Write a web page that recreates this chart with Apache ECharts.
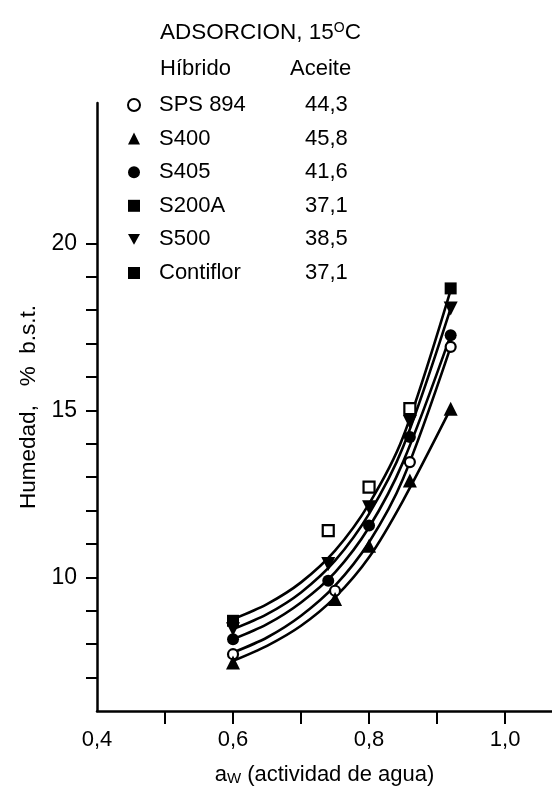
<!DOCTYPE html>
<html>
<head>
<meta charset="utf-8">
<script src="https://cdn.jsdelivr.net/npm/echarts@6/dist/echarts.min.js"></script>
<style>
html,body{margin:0;padding:0;background:#fff;}
#chart{width:552px;height:786px;}
</style>
</head>
<body>
<div id="chart"></div>
<script>
// Hybrids and oil content (legend)
const hybrids = ['SPS 894', 'S400', 'S405', 'S200A', 'S500', 'Contiflor'];
const oilContent = ['44,3', '45,8', '41,6', '37,1', '38,5', '37,1'];

// Measured points [aw, humedad]
const ptsSPS894 = [[0.60, 7.7], [0.75, 9.6], [0.86, 13.45], [0.92, 16.9]];
const ptsS400 = [[0.60, 7.45], [0.75, 9.35], [0.80, 10.95], [0.86, 12.9], [0.92, 15.05]];
const ptsS405 = [[0.60, 8.15], [0.74, 9.9], [0.80, 11.55], [0.86, 14.2], [0.92, 17.25]];
const ptsS200A = [[0.74, 11.4], [0.80, 12.7], [0.86, 15.05]];
const ptsS500 = [[0.60, 8.45], [0.74, 10.4], [0.80, 12.1], [0.86, 14.65], [0.92, 18.05]];
const ptsContiflor = [[0.60, 8.7], [0.92, 18.65]];

// Fitted curves
const curveAw = [0.60, 0.65, 0.70, 0.75, 0.80, 0.85, 0.92];
const curveTop = [8.75, 9.2, 9.85, 10.8, 12.2, 14.2, 18.6];
const curveS500 = [8.45, 8.9, 9.55, 10.5, 11.9, 13.9, 18.05];
const curveS405 = [8.15, 8.6, 9.25, 10.15, 11.5, 13.45, 17.25];
const curveSPS = [7.75, 8.2, 8.85, 9.75, 11.05, 12.95, 16.9];
const curveS400 = [7.5, 7.95, 8.55, 9.4, 10.6, 12.3, 15.05];

// Axis ticks
const xTicks = [0.5, 0.6, 0.7, 0.8, 0.9, 1.0];
const xLabels = [0.4, 0.6, 0.8, 1.0];
const yTicks = [7, 8, 9, 10, 11, 12, 13, 14, 15, 16, 17, 18, 19, 20];
const yLabels = [10, 15, 20];

const FONT = 'Liberation Sans';
const chart = echarts.init(document.getElementById('chart'));

function curve(ys) { return curveAw.map((x, i) => [x, ys[i]]); }

const DOWN_TRI = 'path://M0,0 L10,0 L5,9 Z';

const markerDefs = [
  { name: 'SPS 894', data: ptsSPS894, symbol: 'circle', size: 10, fill: '#fff', border: 2.2 },
  { name: 'S400', data: ptsS400, symbol: 'triangle', size: 14, fill: '#000', border: 0 },
  { name: 'S405', data: ptsS405, symbol: 'circle', size: 12, fill: '#000', border: 0 },
  { name: 'S200A', data: ptsS200A, symbol: 'rect', size: 11, fill: '#fff', border: 2.2 },
  { name: 'S500', data: ptsS500, symbol: DOWN_TRI, size: 14, fill: '#000', border: 0 },
  { name: 'Contiflor', data: ptsContiflor, symbol: 'rect', size: 12, fill: '#000', border: 0 }
];

const curves = [curveTop, curveS500, curveS405, curveSPS, curveS400];

const series = [];
curves.forEach((c, i) => {
  series.push({
    name: 'curve' + i,
    type: 'line',
    data: curve(c),
    smooth: 0.3,
    showSymbol: false,
    silent: true,
    lineStyle: { color: '#000', width: 2.6 },
    z: 2
  });
});
markerDefs.forEach(m => {
  series.push({
    name: m.name,
    type: 'scatter',
    data: m.data,
    symbol: m.symbol,
    symbolSize: m.size,
    itemStyle: { color: m.fill, borderColor: '#000', borderWidth: m.border, opacity: 1 },
    z: 5
  });
});

const legendData = markerDefs.map(m => {
  const d = { name: m.name };
  if (m.name === 'S200A') d.itemStyle = { color: '#000', borderWidth: 0 };
  if (m.name === 'S500') d.icon = DOWN_TRI;
  return d;
});

const option = {
  animation: false,
  backgroundColor: '#fff',
  title: [
    {
      text: 'ADSORCION, 15{s|O}C',
      left: 155, top: 16,
      textStyle: {
        fontFamily: FONT, fontSize: 22.5, fontWeight: 'normal', color: '#000',
        rich: { s: { fontFamily: FONT, fontSize: 14, verticalAlign: 'top', padding: [0, 0, 9, 0], color: '#000' } }
      }
    },
    { text: 'Híbrido', left: 155, top: 53, textStyle: { fontFamily: FONT, fontSize: 22, fontWeight: 'normal', color: '#000' } },
    { text: 'Aceite', left: 285, top: 53, textStyle: { fontFamily: FONT, fontSize: 22, fontWeight: 'normal', color: '#000' } }
  ],
  legend: {
    orient: 'vertical',
    left: 122, top: 89,
    itemWidth: 12, itemHeight: 12,
    itemGap: 11.6,
    selectedMode: false,
    data: legendData,
    formatter: name => {
      const i = hybrids.indexOf(name);
      return '{n|' + name + '}{v|' + oilContent[i] + '}';
    },
    textStyle: {
      fontFamily: FONT, fontSize: 22, color: '#000',
      rich: {
        n: { fontFamily: FONT, fontSize: 22, width: 146, padding: [0, 0, 0, 14], lineHeight: 24, color: '#000' },
        v: { fontFamily: FONT, fontSize: 22, lineHeight: 24, color: '#000' }
      }
    }
  },
  grid: { left: 97, right: 0, top: 103, bottom: 75, containLabel: false, outerBoundsMode: 'none' },
  xAxis: {
    type: 'value',
    min: 0.4, max: 1.069,
    name: '{a|a}{w|W} (actividad de agua)',
    nameLocation: 'middle',
    nameGap: 52,
    nameTextStyle: {
      fontFamily: FONT, fontSize: 22, color: '#000',
      rich: {
        a: { fontFamily: FONT, fontSize: 22, color: '#000' },
        w: { fontFamily: FONT, fontSize: 15, color: '#000', verticalAlign: 'bottom', padding: [8, 0, 0, 0] }
      }
    },
    axisLine: { onZero: false, lineStyle: { color: '#000', width: 2.5 } },
    axisTick: { show: true, customValues: xTicks, length: 13, lineStyle: { color: '#000', width: 2 } },
    axisLabel: {
      customValues: xLabels,
      formatter: v => v.toFixed(1).replace('.', ','),
      fontFamily: FONT, fontSize: 22, color: '#000', margin: 18
    },
    splitLine: { show: false }
  },
  yAxis: {
    type: 'value',
    min: 6, max: 24.2,
    name: 'Humedad,   %  b.s.t.',
    nameLocation: 'middle',
    nameGap: 57,
    nameRotate: 90,
    nameTextStyle: { fontFamily: FONT, fontSize: 22.5, color: '#000' },
    axisLine: { onZero: false, lineStyle: { color: '#000', width: 2.5 } },
    axisTick: { show: true, customValues: yTicks, length: 11, lineStyle: { color: '#000', width: 2 } },
    axisLabel: {
      customValues: yLabels,
      formatter: v => String(v),
      fontFamily: FONT, fontSize: 23, color: '#000', margin: 20
    },
    splitLine: { show: false }
  },
  series: series
};
chart.setOption(option);
</script>
</body>
</html>
